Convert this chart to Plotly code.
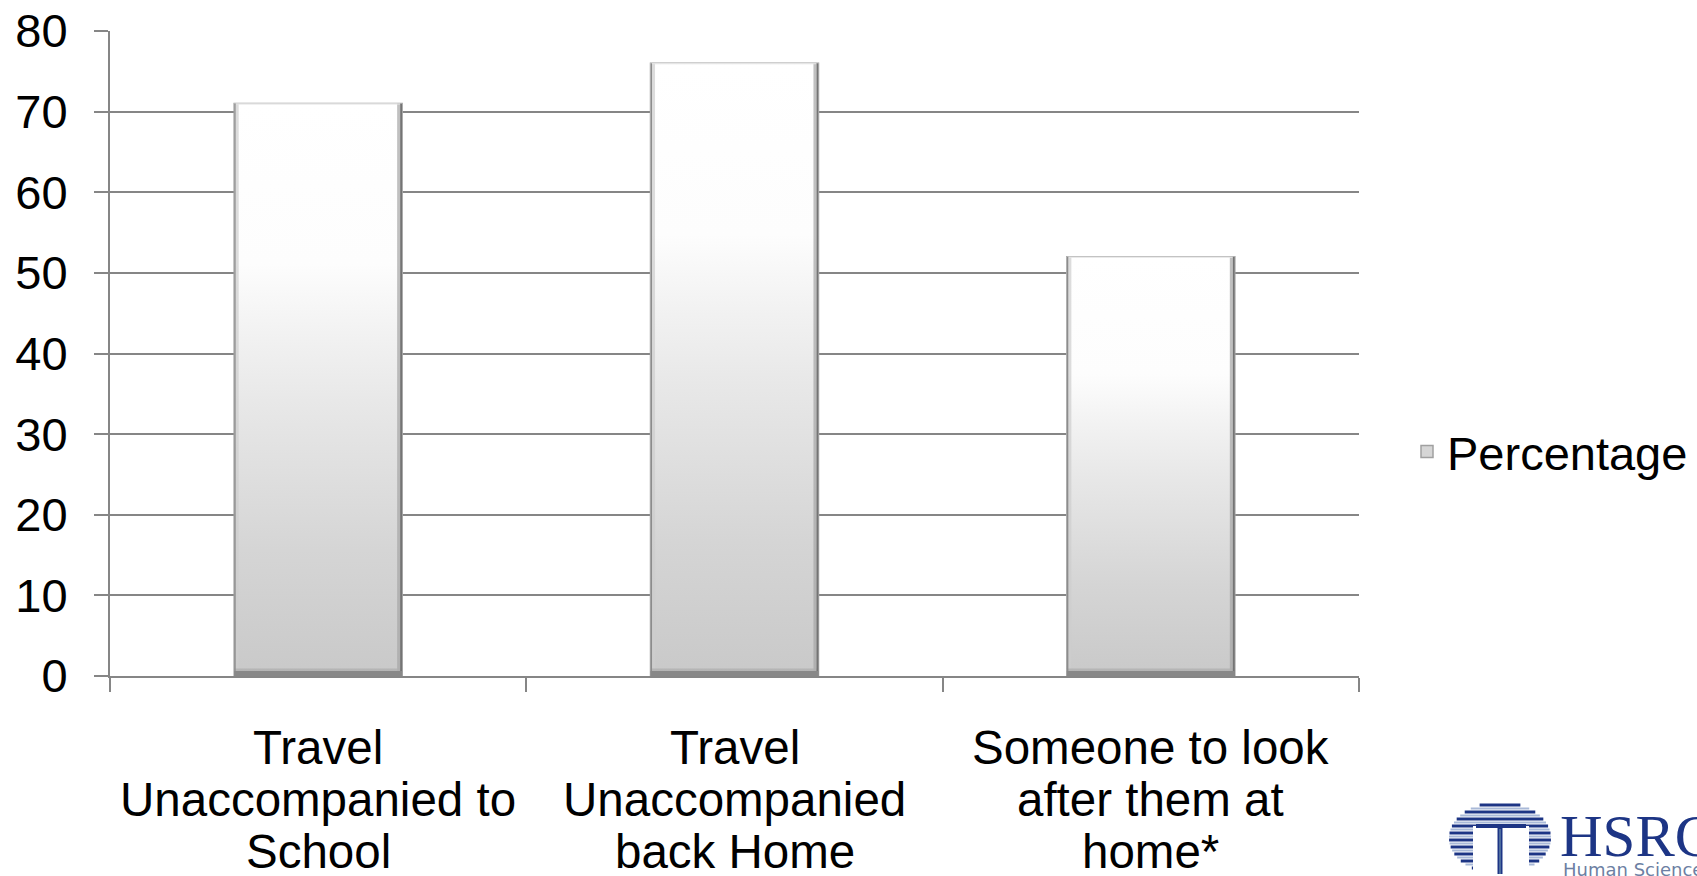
import plotly.graph_objects as go

# ---- data -------------------------------------------------------------
categories = [
    "Travel<br>Unaccompanied to<br>School",
    "Travel<br>Unaccompanied<br>back Home",
    "Someone to look<br>after them at<br>home*",
]
percentage = [71, 76, 52]
series_name = "Percentage"
y_ticks = [0, 10, 20, 30, 40, 50, 60, 70, 80]

# ---- geometry / style -------------------------------------------------
W, H = 1697, 876
M_L, M_R, M_T, M_B = 110, 338, 31, 200
PLOT_W = W - M_L - M_R
PLOT_H = H - M_T - M_B
Y_MAX = 80
BAR_W = 0.4034
HW = BAR_W / 2
DX = 3 / PLOT_W          # one pixel in x data units (3 categories wide)
DY = Y_MAX / PLOT_H      # one pixel in y data units

FONT = "Liberation Sans, Arial, sans-serif"
AXIS_GREY = "#868686"
NAVY = "#1d3585"


def px(xp):
    return (xp - M_L) / PLOT_W


def py(yp):
    return (M_T + PLOT_H - yp) / PLOT_H


xs = list(range(len(categories)))

fig = go.Figure()

# legend entry / base bars
fig.add_trace(go.Bar(
    x=xs, y=percentage, width=BAR_W, name=series_name,
    marker=dict(color="#d6d6d6", line=dict(color="#a0a0a0", width=1.5)),
    hovertemplate="%{y}<extra></extra>",
))

# gradient body of each bar
grad = [[0, "#c9c9c9"], [0.22, "#d5d5d5"], [0.48, "#e8e8e8"],
        [0.6, "#f2f2f2"], [0.72, "#fdfdfd"], [1, "#ffffff"]]
for c, v in zip(xs, percentage):
    fig.add_trace(go.Scatter(
        x=[c - HW, c + HW, c + HW, c - HW, c - HW],
        y=[0, 0, v, v, 0],
        mode="lines", fill="toself", line=dict(width=0),
        fillgradient=dict(type="vertical", colorscale=grad, start=0, stop=v),
        showlegend=False, hoverinfo="skip",
    ))


def edge_trace(xfun, yfun, color, width):
    ex, ey = [], []
    for c, v in zip(xs, percentage):
        a, b = xfun(c, v), yfun(c, v)
        ex += list(a) + [None]
        ey += list(b) + [None]
    return go.Scatter(x=ex, y=ey, mode="lines",
                      line=dict(color=color, width=width),
                      showlegend=False, hoverinfo="skip")


# bevelled edges of the bars
fig.add_trace(edge_trace(lambda c, v: (c - HW + 3 * DX, c - HW + 3 * DX),
                         lambda c, v: (0, v), "rgba(205,205,205,0.7)", 3))
fig.add_trace(edge_trace(lambda c, v: (c + HW - 3.5 * DX, c + HW - 3.5 * DX),
                         lambda c, v: (0, v), "rgba(165,165,165,0.7)", 3))
fig.add_trace(edge_trace(lambda c, v: (c - HW, c + HW),
                         lambda c, v: (6 * DY, 6 * DY), "rgba(175,175,175,0.8)", 3))
fig.add_trace(edge_trace(lambda c, v: (c - HW, c + HW),
                         lambda c, v: (v - 0.5 * DY, v - 0.5 * DY), "#e4e4e4", 1))
fig.add_trace(edge_trace(lambda c, v: (c - HW + 0.75 * DX, c - HW + 0.75 * DX),
                         lambda c, v: (0, v), "#8c8c8c", 1.5))
fig.add_trace(edge_trace(lambda c, v: (c + HW - 1 * DX, c + HW - 1 * DX),
                         lambda c, v: (0, v), "#747474", 2))
fig.add_trace(edge_trace(lambda c, v: (c - HW, c + HW),
                         lambda c, v: (2.5 * DY, 2.5 * DY), "#888888", 5))

# category labels, one line at a time
annotations = []
LINE_STEP = 52
for c, label in zip(xs, categories):
    for i, line in enumerate(label.split("<br>")):
        annotations.append(dict(
            x=c, xref="x", y=py(747 + LINE_STEP * i), yref="paper",
            text=line, showarrow=False, xanchor="center", yanchor="middle",
            font=dict(family=FONT, size=47.5, color="black"),
        ))

# organisation mark in the lower right corner
annotations.append(dict(
    x=px(1558), y=py(836), xref="paper", yref="paper", text="HSRC",
    showarrow=False, xanchor="left", yanchor="middle",
    font=dict(family="Liberation Serif, Times New Roman, serif", size=59, color=NAVY),
))
annotations.append(dict(
    x=px(1561), y=py(869), xref="paper", yref="paper",
    text="Human Sciences Research Council",
    showarrow=False, xanchor="left", yanchor="middle",
    font=dict(family="DejaVu Sans, sans-serif", size=18, color="#6d7fa3"),
))

shapes = []
cx, cy, rx, ry = 1500, 838, 51, 36
yy = cy - ry + 3
k = 0
while yy < cy + ry:
    half = rx * (1 - ((yy - cy) / ry) ** 2) ** 0.5
    shapes.append(dict(
        type="line", xref="paper", yref="paper",
        x0=px(cx - half), x1=px(cx + half), y0=py(yy), y1=py(yy),
        line=dict(color=NAVY if k % 2 == 0 else "#a9b9d8", width=3 if k % 2 == 0 else 2),
    ))
    yy += 3.5
    k += 1
shapes.append(dict(type="rect", xref="paper", yref="paper",
                   x0=px(1473), x1=px(1529), y0=py(876), y1=py(826),
                   fillcolor="white", line=dict(width=0)))
shapes.append(dict(type="line", xref="paper", yref="paper",
                   x0=px(1476), x1=px(1526), y0=py(826), y1=py(826),
                   line=dict(color=NAVY, width=4)))
shapes.append(dict(type="line", xref="paper", yref="paper",
                   x0=px(1500), x1=px(1500), y0=py(826), y1=py(874),
                   line=dict(color=NAVY, width=5)))
shapes.append(dict(type="line", xref="paper", yref="paper",
                   x0=px(1500), x1=px(1500), y0=py(829), y1=py(874),
                   line=dict(color="#7ea3b8", width=1)))

fig.update_layout(
    width=W, height=H,
    margin=dict(l=M_L, r=M_R, t=M_T, b=M_B, pad=0, autoexpand=False),
    paper_bgcolor="white", plot_bgcolor="white",
    font=dict(family=FONT, size=47, color="black"),
    showlegend=True,
    legend=dict(x=px(1407), y=py(452), xanchor="left", yanchor="middle",
                font=dict(family=FONT, size=47, color="black"),
                bgcolor="rgba(0,0,0,0)", borderwidth=0),
    xaxis=dict(range=[-0.5, 2.5], tickvals=[-0.5, 0.5, 1.5, 2.5],
               showticklabels=False, ticks="outside", ticklen=14, tickwidth=2,
               tickcolor=AXIS_GREY, showline=True, linecolor=AXIS_GREY, linewidth=2,
               showgrid=False, zeroline=False, fixedrange=True, automargin=False),
    yaxis=dict(range=[0, Y_MAX], tickvals=y_ticks, ticks="outside", ticklen=14,
               tickwidth=2, tickcolor=AXIS_GREY, showline=True, linecolor=AXIS_GREY,
               linewidth=2, showgrid=True, gridcolor=AXIS_GREY, gridwidth=2,
               zeroline=False, tickfont=dict(family=FONT, size=47, color="black"),
               ticklabelstandoff=17, fixedrange=True, automargin=False),
    annotations=annotations,
    shapes=shapes,
)

fig.write_html("out.html")
